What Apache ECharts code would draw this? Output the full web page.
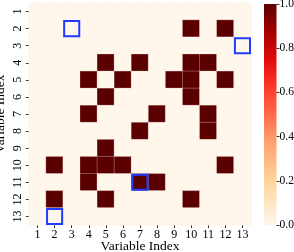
<!DOCTYPE html>
<html><head><meta charset="utf-8">
<script src="https://cdn.jsdelivr.net/npm/echarts@6/dist/echarts.min.js"></script>
<style>html,body{margin:0;padding:0;background:#fff}#c{width:294px;height:252px}</style>
</head><body><div id="c"></div>
<script>
const categories = ['1','2','3','4','5','6','7','8','9','10','11','12','13'];
// cells with value 1: [row, col] (1-based)
const onesCells = [
  [2,10],[2,12],
  [4,5],[4,7],[4,10],[4,11],
  [5,4],[5,6],[5,9],[5,10],[5,12],
  [6,5],[6,10],
  [7,4],[7,8],[7,11],
  [8,7],[8,11],
  [9,5],
  [10,2],[10,4],[10,5],[10,6],[10,12],
  [11,4],[11,7],[11,8],
  [12,2],[12,5],[12,10]
];
// highlighted cells: [row, col]
const boxCells = [[2,3],[3,13],[11,7],[13,2]];
const cbTicks = [0, 0.2, 0.4, 0.6, 0.8, 1.0];

const heatData = [];
for (let r = 1; r <= 13; r++) {
  for (let c = 1; c <= 13; c++) {
    const on = onesCells.some(p => p[0] === r && p[1] === c) ? 1 : 0;
    heatData.push([c - 1, r - 1, on]);
  }
}
const boxData = boxCells.map(p => [p[1] - 1, p[0] - 1]);

const stops = [
  {offset: 0, color: '#5a0000'},
  {offset: 0.12, color: '#a00000'},
  {offset: 0.25, color: '#e00a0a'},
  {offset: 0.38, color: '#ff3b2b'},
  {offset: 0.5, color: '#ff6a4a'},
  {offset: 0.62, color: '#ffa06e'},
  {offset: 0.8, color: '#ffd49a'},
  {offset: 1, color: '#fff7ec'}
];

const font = 'Liberation Serif';
const chart = echarts.init(document.getElementById('c'));
chart.setOption({
  animation: false,
  textStyle: {fontFamily: font},
  grid: [
    {left: 29, top: 3, width: 222, height: 222, containLabel: false, outerBoundsMode: 'none'},
    {left: 264, top: 4, width: 12.5, height: 221, containLabel: false, outerBoundsMode: 'none'}
  ],
  xAxis: [
    {type: 'category', data: categories, gridIndex: 0,
     name: 'Variable Index', nameLocation: 'middle', nameGap: 14, nameMoveOverlap: false,
     nameTextStyle: {fontFamily: font, fontSize: 13.5, color: '#000'},
     axisLine: {show: false},
     axisTick: {show: true, alignWithLabel: true, length: 3, lineStyle: {color: '#333'}},
     axisLabel: {fontFamily: font, fontSize: 12, color: '#000', margin: 4, interval: 0},
     splitLine: {show: false}},
    {type: 'category', data: ['cb'], gridIndex: 1, show: false}
  ],
  yAxis: [
    {type: 'category', data: categories, gridIndex: 0, inverse: true,
     name: 'Variable Index', nameLocation: 'middle', nameGap: 22, nameMoveOverlap: false,
     nameTextStyle: {fontFamily: font, fontSize: 13.5, color: '#000'},
     axisLine: {show: false},
     axisTick: {show: true, alignWithLabel: true, length: 3, lineStyle: {color: '#333'}},
     axisLabel: {fontFamily: font, fontSize: 12, color: '#000', rotate: 90, margin: 5, interval: 0},
     splitLine: {show: false}},
    {type: 'value', gridIndex: 1, min: 0, max: 1, interval: 0.2, position: 'right',
     axisLine: {show: false},
     axisTick: {show: true, length: 3, lineStyle: {color: '#333'}},
     axisLabel: {fontFamily: font, fontSize: 11.5, color: '#000', margin: 3,
                 formatter: v => v.toFixed(1)},
     splitLine: {show: false}}
  ],
  visualMap: {
    show: false, min: 0, max: 1, seriesIndex: 0,
    inRange: {color: ['#fff7ec', '#5a0000']}
  },
  series: [
    {type: 'heatmap', xAxisIndex: 0, yAxisIndex: 0, data: heatData,
     itemStyle: {borderColor: 'rgba(255,235,225,0.45)', borderWidth: 0.6}},
    {type: 'custom', xAxisIndex: 0, yAxisIndex: 0, data: boxData, z: 5,
     renderItem: function (params, api) {
       const p = api.coord([api.value(0), api.value(1)]);
       const s = api.size([1, 1]);
       return {type: 'rect',
         shape: {x: p[0] - s[0] / 2 + 1, y: p[1] - s[1] / 2 + 1, width: s[0] - 2, height: s[1] - 2},
         style: {fill: 'none', stroke: '#1f3cff', lineWidth: 2}};
     }},
    {type: 'bar', xAxisIndex: 1, yAxisIndex: 1, data: [1], barWidth: '100%', silent: true,
     itemStyle: {color: new echarts.graphic.LinearGradient(0, 0, 0, 1, stops)}}
  ]
});
</script></body></html>
